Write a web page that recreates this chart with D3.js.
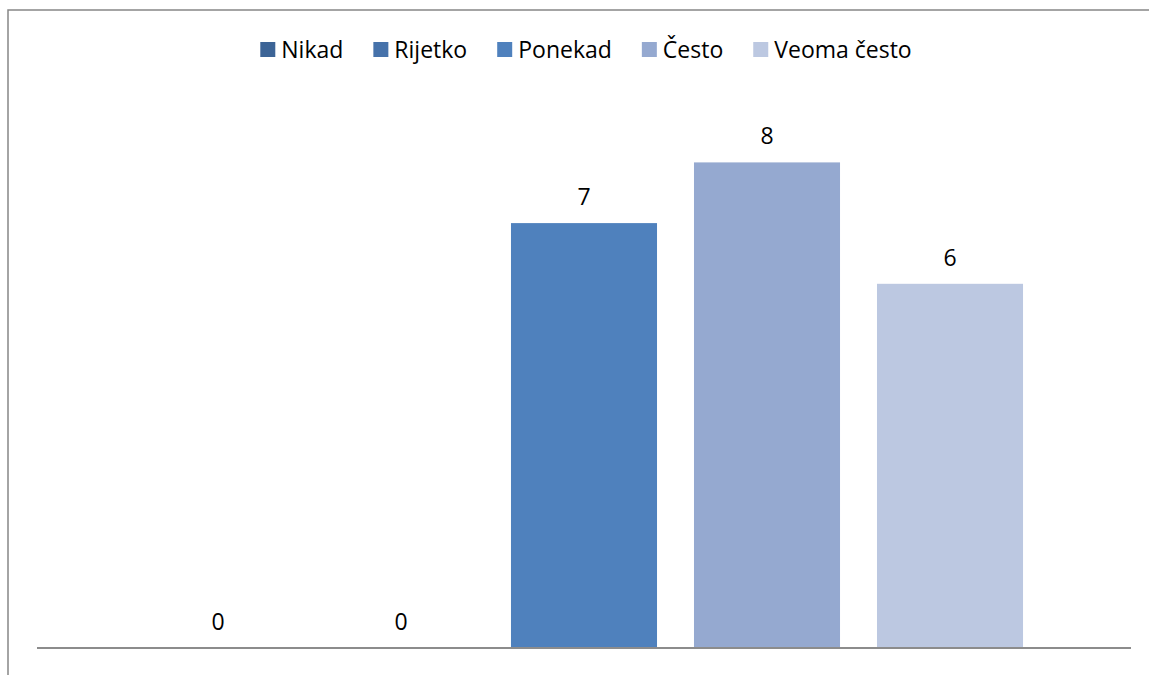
<!DOCTYPE html>
<html>
<head>
<meta charset="utf-8">
<script src="https://cdn.jsdelivr.net/npm/d3@7"></script>
<style>
  body { margin: 0; background: #fff; }
  text { font-family: "Open Sans", sans-serif; fill: #000; }
</style>
</head>
<body>
<script>
// one category, five series (Excel-style clustered column)
const series = ['Nikad', 'Rijetko', 'Ponekad', 'Često', 'Veoma često']
const values = [0, 0, 7, 8, 6]
const colors = ['#3c6496', '#4672aa', '#4f81bd', '#95a9d0', '#bcc8e1']

const W = 1149, H = 675
const plot = { left: 37, right: 1131, top: 41, bottom: 648 }

let svg = d3.select('body').append('svg')
  .attr('width', W)
  .attr('height', H)

// chart frame (runs off the right/bottom of the window)
svg.append('path')
  .attr('fill', 'none')
  .attr('stroke', '#878787')
  .attr('stroke-width', 1.5)
  .attr('d', 'M8,' + H + 'V10H' + W)

let x = d3.scaleBand()
  .domain(series)
  .range([plot.left, plot.right])
  .paddingInner(0.202)
  .paddingOuter(0.59)

let y = d3.scaleLinear()
  .domain([0, 10])
  .range([plot.bottom, plot.top])

svg.selectAll('rect.bar')
    .data(series)
  .enter().append('rect')
    .attr('class', 'bar')
    .attr('x', (d) => x(d))
    .attr('width', x.bandwidth())
    .attr('y', (d, i) => y(values[i]))
    .attr('height', (d, i) => y(0) - y(values[i]))
    .attr('fill', (d, i) => colors[i])

svg.selectAll('text.val')
    .data(series)
  .enter().append('text')
    .attr('class', 'val')
    .attr('x', (d) => x(d) + x.bandwidth() / 2)
    .attr('y', (d, i) => y(values[i]) - 18)
    .attr('text-anchor', 'middle')
    .attr('font-size', 23)
    .text((d, i) => values[i])

// x axis line, no ticks
svg.append('g')
  .attr('transform', 'translate(0,' + plot.bottom + ')')
  .call(d3.axisBottom(x).tickSize(0).tickFormat(''))
  .call((g) => g.select('.domain')
    .attr('d', 'M' + plot.left + ',0H' + plot.right)
    .attr('stroke', '#8c8c8c')
    .attr('stroke-width', 2))

// legend, laid out from measured text widths and centred
let legend = svg.append('g')
  .selectAll('g')
    .data(series)
  .enter().append('g')

legend.append('rect')
  .attr('y', 42)
  .attr('width', 15)
  .attr('height', 15)
  .attr('fill', (d, i) => colors[i])

legend.append('text')
  .attr('x', 21)
  .attr('y', 58)
  .attr('font-size', 23)
  .text((d) => d)

let widths = []
legend.select('text').each(function () { widths.push(21 + this.getComputedTextLength()) })
let total = d3.sum(widths) + 30 * (series.length - 1)
let cx = 586 - total / 2
legend.attr('transform', (d, i) => {
  let t = 'translate(' + cx + ',0)'
  cx += widths[i] + 30
  return t
})
</script>
</body>
</html>
